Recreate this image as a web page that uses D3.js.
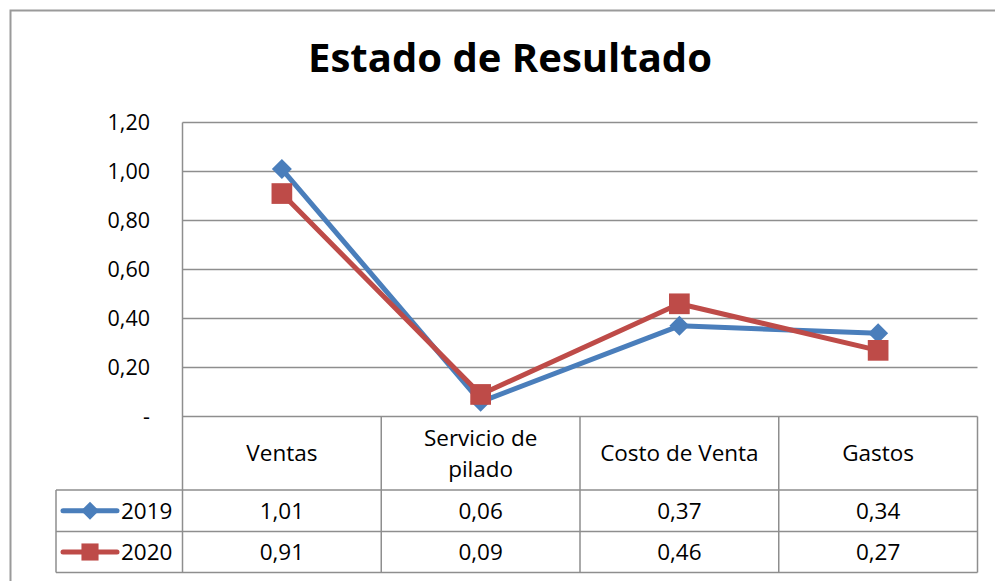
<!DOCTYPE html>
<html>
<head>
<meta charset="utf-8">
<script src="https://cdn.jsdelivr.net/npm/d3@7"></script>
<style>
  body { margin: 0; background: #fff; }
  svg { display: block; font-family: "Open Sans", sans-serif; }
</style>
</head>
<body>
<svg id="chart" width="995" height="581"></svg>
<script>
  var categories = ["Ventas", "Servicio de\npilado", "Costo de Venta", "Gastos"];
  var seriesNames = ["2019", "2020"];
  var values2019 = [1.01, 0.06, 0.37, 0.34];
  var values2020 = [0.91, 0.09, 0.46, 0.27];
  var yTicks = [0, 0.2, 0.4, 0.6, 0.8, 1.0, 1.2];

  var series = [
    { name: seriesNames[0], values: values2019, color: "#4a7ebb", marker: "diamond" },
    { name: seriesNames[1], values: values2020, color: "#be4b48", marker: "square" }
  ];

  var locale = d3.formatLocale({ decimal: ",", thousands: ".", grouping: [3], currency: ["", ""] });
  var fmt = locale.format(".2f");
  var tickFmt = function(d) { return d === 0 ? "-" : fmt(d); };

  var svg = d3.select("#chart");
  var gridColor = "#8e8e8e";
  var tableFont = 22.5;

  var plotLeft = 182.5, plotRight = 977.5;
  var y0 = 416.5, y1 = 122.5;
  var rowTops = [416.5, 490, 531.5, 572.5];
  var legendLeft = 56;

  var x = d3.scaleBand().domain(categories).range([plotLeft, plotRight]);
  var y = d3.scaleLinear().domain([0, 1.2]).range([y0, y1]);

  // outer frame
  svg.append("path")
    .attr("d", "M10.5,581 L10.5,10.5 L995,10.5")
    .attr("fill", "none")
    .attr("stroke", "#9a9a9a")
    .attr("stroke-width", 2);

  // title
  svg.append("text")
    .attr("x", 510)
    .attr("y", 72)
    .attr("text-anchor", "middle")
    .attr("font-size", 39)
    .attr("font-weight", "bold")
    .attr("textLength", 404)
    .attr("lengthAdjust", "spacingAndGlyphs")
    .attr("fill", "#000")
    .text("Estado de Resultado");

  // gridlines
  svg.append("g")
    .attr("stroke", gridColor)
    .attr("stroke-width", 1.5)
    .selectAll("line").data(yTicks).enter().append("line")
    .attr("x1", plotLeft)
    .attr("x2", plotRight)
    .attr("y1", function(d) { return y(d); })
    .attr("y2", function(d) { return y(d); });

  // y labels
  svg.append("g")
    .attr("font-size", 21.5)
    .attr("text-anchor", "end")
    .attr("fill", "#000")
    .selectAll("text").data(yTicks).enter().append("text")
    .attr("x", 150)
    .attr("y", function(d) { return y(d) + 7.5; })
    .text(tickFmt);

  // data table
  var table = svg.append("g").attr("stroke", gridColor).attr("stroke-width", 1.5);
  table.append("line").attr("x1", plotLeft).attr("x2", plotLeft).attr("y1", y1).attr("y2", rowTops[3]);
  rowTops.slice(1).forEach(function(ry) {
    table.append("line").attr("x1", legendLeft).attr("x2", plotRight).attr("y1", ry).attr("y2", ry);
  });
  table.append("line").attr("x1", legendLeft).attr("x2", legendLeft).attr("y1", rowTops[1]).attr("y2", rowTops[3]);
  categories.forEach(function(c) {
    var bx = x(c) + x.bandwidth();
    table.append("line").attr("x1", bx).attr("x2", bx).attr("y1", rowTops[0]).attr("y2", rowTops[3]);
  });

  // header labels
  var headers = svg.append("g").attr("font-size", tableFont).attr("text-anchor", "middle").attr("fill", "#000");
  categories.forEach(function(c) {
    var lines = c.split("\n");
    var cy = (rowTops[0] + rowTops[1]) / 2;
    var lh = 31;
    lines.forEach(function(l, i) {
      headers.append("text")
        .attr("x", x(c) + x.bandwidth() / 2)
        .attr("y", cy + 8 + (i - (lines.length - 1) / 2) * lh)
        .text(l);
    });
  });

  // filled marker shapes, w = full width in px
  function markerPath(s, w) {
    var h = w / 2;
    if (s.marker === "diamond") {
      return "M0," + (-h) + "L" + h + ",0L0," + h + "L" + (-h) + ",0Z";
    }
    h = w * 0.45;
    return "M" + (-h) + "," + (-h) + "H" + h + "V" + h + "H" + (-h) + "Z";
  }

  // value rows + legend
  series.forEach(function(s, si) {
    var top = rowTops[si + 1], bot = rowTops[si + 2];
    var cy = (top + bot) / 2;
    var row = svg.append("g").attr("font-size", tableFont).attr("fill", "#000");
    row.selectAll("text.val").data(s.values).enter().append("text")
      .attr("class", "val")
      .attr("text-anchor", "middle")
      .attr("x", function(d, i) { return x(categories[i]) + x.bandwidth() / 2; })
      .attr("y", cy + 8)
      .text(function(d) { return fmt(d); });
    row.append("line")
      .attr("x1", 63).attr("x2", 117).attr("y1", cy).attr("y2", cy)
      .attr("stroke", s.color).attr("stroke-width", 5).attr("stroke-linecap", "round");
    row.append("path")
      .attr("transform", "translate(90," + cy + ")")
      .attr("d", markerPath(s, s.marker === "diamond" ? 18 : 19))
      .attr("fill", s.color);
    row.append("text")
      .attr("x", 121)
      .attr("y", cy + 8)
      .text(s.name);
  });

  // series lines and markers
  var line = d3.line()
    .x(function(d, i) { return x(categories[i]) + x.bandwidth() / 2; })
    .y(function(d) { return y(d); });

  series.forEach(function(s) {
    var g = svg.append("g");
    g.append("path")
      .attr("d", line(s.values))
      .attr("fill", "none")
      .attr("stroke", s.color)
      .attr("stroke-width", 5)
      .attr("stroke-linejoin", "round");
    g.selectAll("path.marker").data(s.values).enter().append("path")
      .attr("class", "marker")
      .attr("transform", function(d, i) {
        return "translate(" + (x(categories[i]) + x.bandwidth() / 2) + "," + y(d) + ")";
      })
      .attr("d", markerPath(s, s.marker === "diamond" ? 20 : 23))
      .attr("fill", s.color);
  });
</script>
</body>
</html>
